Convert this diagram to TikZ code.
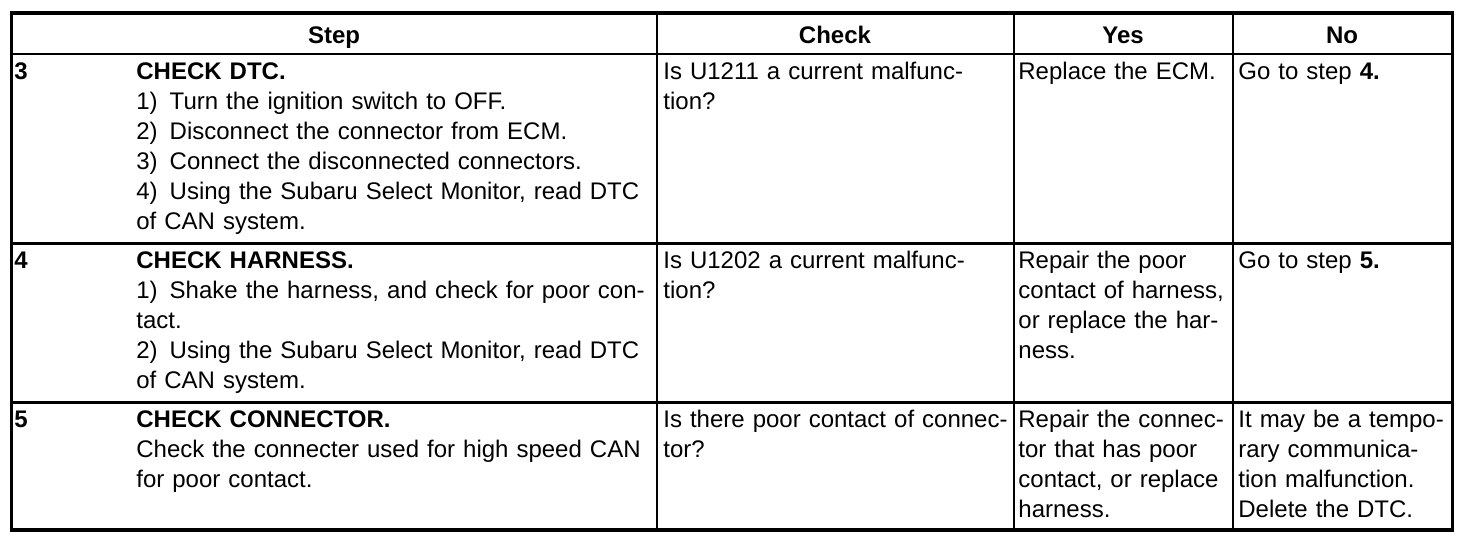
\documentclass[tikz,border=0pt]{standalone}
\usepackage{fontspec}
\setmainfont{Liberation Sans}
\begin{document}
\begin{tikzpicture}[x=0.5pt,y=-0.5pt,
  outer/.style={line width=1.8pt},
  hline/.style={line width=1.2pt},
  vline/.style={line width=1pt},
  txt/.style={anchor=base west, inner sep=0pt, align=left, text width=#1, font=\fontsize{12}{15}\selectfont},
  txt/.default=300pt,
  head/.style={anchor=base, inner sep=0pt, font=\fontsize{12}{15}\selectfont\bfseries}]
\useasboundingbox (0,0) rectangle (1472,546);
% grid
\draw[hline] (11.5,54) -- (1452.5,54);
\draw[hline] (11.5,243.5) -- (1452.5,243.5);
\draw[hline] (11.5,402.5) -- (1452.5,402.5);
\draw[vline] (656.5,13) -- (656.5,530);
\draw[vline] (1014,13) -- (1014,530);
\draw[vline] (1232.5,13) -- (1232.5,530);
\draw[outer] (11.5,13) rectangle (1452.5,530);
% header
\node[head] (hstep) at (334,43) {Step};
\node[head] (hcheck) at (835,43) {Check};
\node[head] (hyes) at (1123,43) {Yes};
\node[head] (hno) at (1342,43) {No};
% row 3
\node[txt=40pt] (n3) at (14,79) {\textbf{3}};
\node[txt=270pt] (s3) at (136,79) {\textbf{CHECK DTC.}\\
1)\hspace{0.5em}Turn the ignition switch to OFF.\\
2)\hspace{0.5em}Disconnect the connector from ECM.\\
3)\hspace{0.5em}Connect the disconnected connectors.\\
4)\hspace{0.5em}Using the Subaru Select Monitor, read DTC\\
of CAN system.};
\node[txt=180pt] (c3) at (663,79) {Is U1211 a current malfunc-\\tion?};
\node[txt=110pt] (y3) at (1018,79) {Replace the ECM.};
\node[txt=110pt] (no3) at (1238,79) {Go to step \textbf{4.}};
% row 4
\node[txt=40pt] (n4) at (14,268.5) {\textbf{4}};
\node[txt=270pt] (s4) at (136,268.5) {\textbf{CHECK HARNESS.}\\
1)\hspace{0.5em}Shake the harness, and check for poor con-\\
tact.\\
2)\hspace{0.5em}Using the Subaru Select Monitor, read DTC\\
of CAN system.};
\node[txt=180pt] (c4) at (663,268.5) {Is U1202 a current malfunc-\\tion?};
\node[txt=110pt] (y4) at (1018,268.5) {Repair the poor\\contact of harness,\\or replace the har-\\ness.};
\node[txt=110pt] (no4) at (1238,268.5) {Go to step \textbf{5.}};
% row 5
\node[txt=40pt] (n5) at (14,427.5) {\textbf{5}};
\node[txt=270pt] (s5) at (136,427.5) {\textbf{CHECK CONNECTOR.}\\
Check the connecter used for high speed CAN\\
for poor contact.};
\node[txt=180pt] (c5) at (663,427.5) {Is there poor contact of connec-\\tor?};
\node[txt=110pt] (y5) at (1018,427.5) {Repair the connec-\\tor that has poor\\contact, or replace\\harness.};
\node[txt=110pt] (no5) at (1238,427.5) {It may be a tempo-\\rary communica-\\tion malfunction.\\Delete the DTC.};
\end{tikzpicture}
\end{document}
